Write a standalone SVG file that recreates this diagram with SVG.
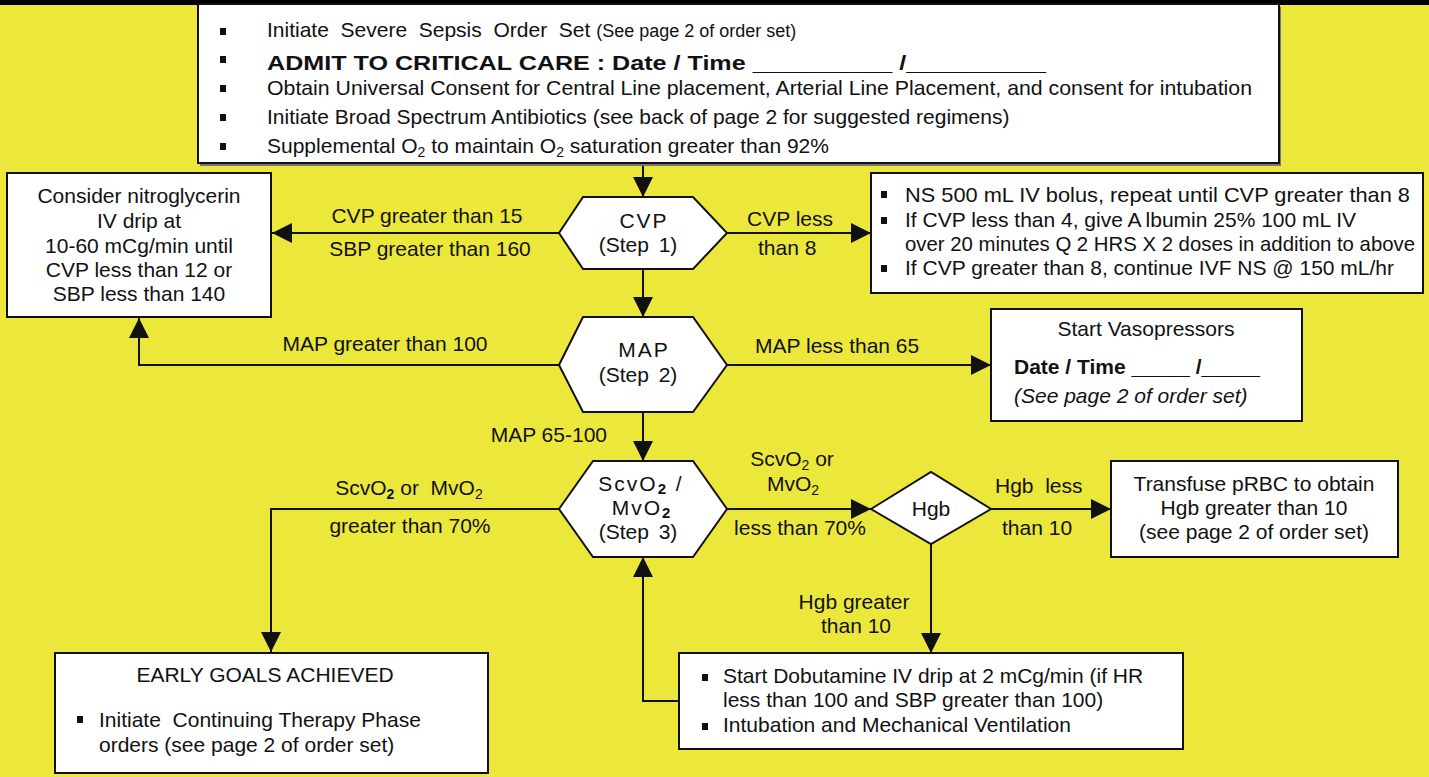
<svg xmlns="http://www.w3.org/2000/svg" width="1429" height="777" viewBox="0 0 1429 777">
<defs>
<style>
text{font-family:"Liberation Sans",Arial,Helvetica,sans-serif;font-size:21px;fill:#111}
.box{fill:#fff;stroke:#111;stroke-width:2}
.shape{fill:#fff;stroke:#111;stroke-width:2}
.ln{fill:none;stroke:#111;stroke-width:2}
.c{text-anchor:middle}
.e{text-anchor:end}
.b{font-weight:bold}
.i{font-style:italic}
.bul{fill:#111}
.hx{letter-spacing:2px}
</style>
<marker id="ah" viewBox="0 0 20 20" markerUnits="userSpaceOnUse" markerWidth="20" markerHeight="20" refX="20" refY="10" orient="auto">
<path d="M0,0 L20,10 L0,20 z" fill="#111"/>
</marker>
</defs>
<rect x="0" y="0" width="1429" height="777" fill="#ECE83B"/>
<rect x="0" y="0" width="1429" height="5" fill="#000"/>

<g id="connectors">
<line class="ln" x1="643" y1="164" x2="643" y2="197" marker-end="url(#ah)"/>
<line class="ln" x1="727" y1="233" x2="871" y2="233" marker-end="url(#ah)"/>
<line class="ln" x1="559" y1="233" x2="272" y2="233" marker-end="url(#ah)"/>
<line class="ln" x1="643" y1="269" x2="643" y2="317" marker-end="url(#ah)"/>
<polyline class="ln" points="559,365 139,365 139,318" marker-end="url(#ah)"/>
<line class="ln" x1="727" y1="365" x2="991" y2="365" marker-end="url(#ah)"/>
<line class="ln" x1="643" y1="412" x2="643" y2="461" marker-end="url(#ah)"/>
<polyline class="ln" points="559,509 271,509 271,652" marker-end="url(#ah)"/>
<line class="ln" x1="727" y1="509" x2="871" y2="509" marker-end="url(#ah)"/>
<line class="ln" x1="991" y1="509" x2="1111" y2="509" marker-end="url(#ah)"/>
<line class="ln" x1="931" y1="544" x2="931" y2="653" marker-end="url(#ah)"/>
<polyline class="ln" points="679,701 643,701 643,557" marker-end="url(#ah)"/>
</g>

<g id="edge-labels">
<text class="c" x="427" y="223">CVP greater than 15</text>
<text class="c" x="430" y="256">SBP greater than 160</text>
<text x="747" y="226">CVP less</text>
<text x="758" y="255">than 8</text>
<text class="c" x="385" y="351">MAP greater than 100</text>
<text x="755" y="353">MAP less than 65</text>
<text class="e" x="607" y="442">MAP 65-100</text>
<text class="c" x="409" y="495">ScvO<tspan font-size="14" dy="4" font-weight="bold">2</tspan><tspan dy="-4"> or&#160; MvO</tspan><tspan font-size="14" dy="4">2</tspan></text>
<text class="c" x="410" y="533">greater than 70%</text>
<text class="c" x="792" y="466">ScvO<tspan font-size="14" dy="4">2</tspan><tspan dy="-4"> or</tspan></text>
<text class="c" x="793" y="491">MvO<tspan font-size="14" dy="4">2</tspan></text>
<text class="c" x="800" y="535">less than 70%</text>
<text x="995" y="493">Hgb&#160; less</text>
<text x="1002" y="535">than 10</text>
<text class="c" x="854" y="609">Hgb greater</text>
<text class="c" x="856" y="633">than 10</text>
</g>

<g id="node-top">
<rect x="200" y="7" width="1081" height="159" fill="#777"/>
<rect class="box" x="198" y="4" width="1081" height="159"/>
<rect class="bul" x="220" y="28" width="6" height="7"/>
<rect class="bul" x="220" y="56" width="6" height="7"/>
<rect class="bul" x="220" y="85" width="6" height="7"/>
<rect class="bul" x="220" y="114" width="6" height="7"/>
<rect class="bul" x="220" y="143" width="6" height="7"/>
<text x="267" y="37">Initiate&#160; Severe&#160; Sepsis&#160; Order&#160; Set <tspan font-size="18">(See page 2 of order set)</tspan></text>
<text class="b" x="267" y="70" font-size="23" textLength="779" lengthAdjust="spacingAndGlyphs">ADMIT TO CRITICAL CARE : Date / Time __________ /__________</text>
<text x="267" y="95" textLength="985" lengthAdjust="spacingAndGlyphs">Obtain Universal Consent for Central Line placement, Arterial Line Placement, and consent for intubation</text>
<text x="267" y="124">Initiate Broad Spectrum Antibiotics (see back of page 2 for suggested regimens)</text>
<text x="267" y="153">Supplemental O<tspan font-size="14" dy="4">2</tspan><tspan dy="-4"> to maintain O</tspan><tspan font-size="14" dy="4">2</tspan><tspan dy="-4"> saturation greater than 92%</tspan></text>
</g>

<g id="node-nitro">
<rect class="box" x="7" y="173" width="264" height="144"/>
<text class="c" x="139" y="203">Consider nitroglycerin</text>
<text class="c" x="139" y="228">IV drip at</text>
<text class="c" x="139" y="253">10-60 mCg/min until</text>
<text class="c" x="139" y="277">CVP less than 12 or</text>
<text class="c" x="139" y="301">SBP less than 140</text>
</g>

<g id="node-cvp">
<polygon class="shape" points="559,233 583,197 693,197 727,233 693,269 583,269"/>
<text class="c hx" x="644" y="228">CVP</text>
<text class="c" x="638" y="252" word-spacing="4">(Step 1)</text>
</g>

<g id="node-ns">
<rect class="box" x="871" y="173" width="552" height="120"/>
<rect class="bul" x="881" y="191" width="6" height="7"/>
<rect class="bul" x="881" y="217" width="6" height="7"/>
<rect class="bul" x="881" y="265" width="6" height="7"/>
<text x="905" y="202" textLength="505" lengthAdjust="spacingAndGlyphs">NS 500 mL IV bolus, repeat until CVP greater than 8</text>
<text x="905" y="227">If CVP less than 4, give A<tspan dx="4">lbumin 25% 100 mL IV</tspan></text>
<text x="905" y="251" textLength="510" lengthAdjust="spacingAndGlyphs">over 20 minutes Q 2 HRS X 2 doses in addition to above</text>
<text x="905" y="275">If CVP greater than 8, continue IVF NS @ 150 mL/hr</text>
</g>

<g id="node-map">
<polygon class="shape" points="559,365 583,317 693,317 727,365 693,412 583,412"/>
<text class="c hx" x="644" y="357">MAP</text>
<text class="c" x="638" y="382" word-spacing="4">(Step 2)</text>
</g>

<g id="node-vaso">
<rect class="box" x="991" y="309" width="311" height="112"/>
<text class="c" x="1146" y="336">Start Vasopressors</text>
<text class="b" x="1014" y="374">Date / Time _____ /_____</text>
<text class="i" x="1014" y="403" font-size="20">(See page 2 of order set)</text>
</g>

<g id="node-scvo2">
<polygon class="shape" points="559,509 593,461 693,461 727,509 693,557 593,557"/>
<text class="c hx" x="641" y="491">ScvO<tspan font-size="15" font-weight="bold" dy="3">2</tspan><tspan dy="-3"> /</tspan></text>
<text class="c hx" x="642" y="515">MvO<tspan font-size="15" font-weight="bold" dy="3">2</tspan></text>
<text class="c" x="638" y="539" word-spacing="4">(Step 3)</text>
</g>

<g id="node-hgb">
<polygon class="shape" points="871,509 931,472 991,509 931,544"/>
<text class="c" x="931" y="516">Hgb</text>
</g>

<g id="node-transfuse">
<rect class="box" x="1111" y="461" width="287" height="96"/>
<text class="c" x="1254" y="491">Transfuse pRBC to obtain</text>
<text class="c" x="1254" y="515">Hgb greater than 10</text>
<text class="c" x="1254" y="539">(see page 2 of order set)</text>
</g>

<g id="node-dobutamine">
<rect class="box" x="679" y="653" width="504" height="96"/>
<rect class="bul" x="702" y="674" width="6" height="7"/>
<rect class="bul" x="702" y="723" width="6" height="7"/>
<text x="723" y="683">Start Dobutamine IV drip at 2 mCg/min (if HR</text>
<text x="723" y="707">less than 100 and SBP greater than 100)</text>
<text x="723" y="732">Intubation and Mechanical Ventilation</text>
</g>

<g id="node-early">
<rect class="box" x="55" y="653" width="433" height="120"/>
<text class="c" x="265" y="682">EARLY GOALS ACHIEVED</text>
<rect class="bul" x="77" y="716" width="6" height="7"/>
<text x="99" y="727">Initiate&#160; Continuing Therapy Phase</text>
<text x="99" y="752">orders (see page 2 of order set)</text>
</g>
</svg>
